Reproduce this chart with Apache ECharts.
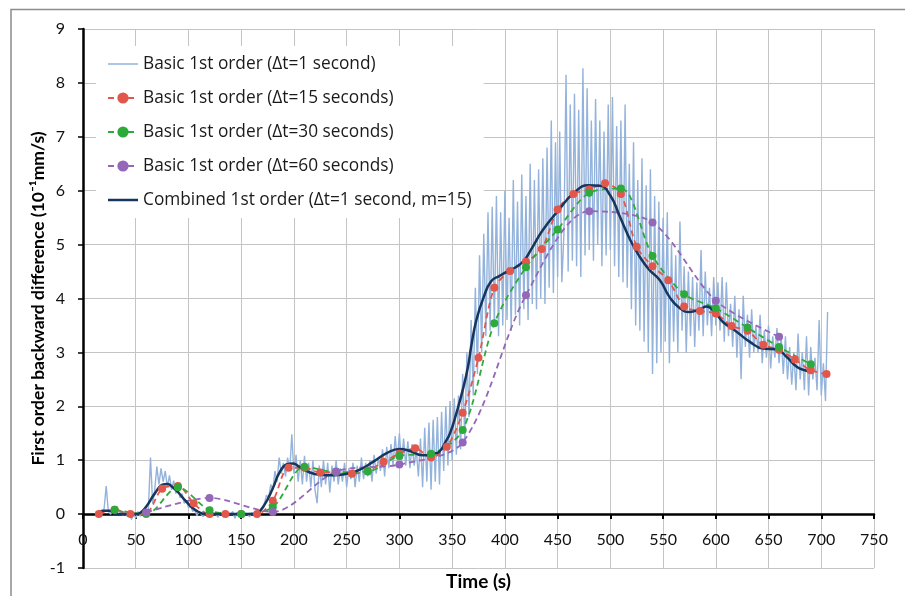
<!DOCTYPE html>
<html>
<head>
<meta charset="utf-8">
<script src="https://cdn.jsdelivr.net/npm/echarts@6/dist/echarts.min.js"></script>
<style>
html,body{margin:0;padding:0;background:#fff}
#main{width:905px;height:596px}
</style>
</head>
<body>
<div id="main"></div>
<script>
// 一阶后向差分 曲线图
var xTicks = [0, 750, 50];   // min, max, step
var yTicks = [-1, 9, 1];

// Δt=1 s raw values, one every 2 s from t=14
var basicStart = 14;
var basicStep = 2;
var basic1 = [
    0, 0.02, 0, 0.1, 0.52,          // 14
    0.05, 0, 0.03, 0.08, 0.02,      // 24
    0, 0.04, -0.02, 0.03, -0.05,    // 34
    0.04, -0.1, 0.02, -0.08, 0.05,  // 44
    -0.04, 0.02, 0.05, 0.03, 0.1,   // 54
    1.05, 0.2, 0.45, 0.88, 0.55,    // 64
    0.85, 0.6, 0.8, 0.5, 0.72,      // 74
    0.45, 0.62, 0.38, 0.5, 0.3,     // 84
    0.38, 0.2, 0.25, 0.12, 0.15,    // 94
    0.05, 0.08, -0.03, 0.04, 0,     // 104
    -0.05, 0.03, 0, 0.05, -0.03,    // 114
    0.02, 0, -0.06, 0.03, 0,        // 124
    0.04, -0.05, 0.02, 0, 0.05,     // 134
    -0.08, 0.03, -0.04, 0.06, -0.07,// 144
    0.02, 0, -0.05, 0.03, 0,        // 154
    0.02, -0.03, 0.05, 0.12, 0.2,   // 164
    0.35, 0.3, 0.55, 0.45, 0.8,     // 174
    0.6, 1.05, 0.75, 0.95, 0.7,     // 184
    1.05, 0.8, 1.48, 0.75, 1.1,     // 194
    0.6, 1.0, 0.55, 1.08, 0.6,      // 204
    0.95, 0.5, 1.0, 0.45, 0.2,      // 214
    0.9, 0.5, 1.0, 0.55, 0.95,      // 224
    0.4, 0.9, 0.6, 1.0, 0.55,       // 234
    0.85, 0.6, 0.95, 0.5, 0.85,     // 244
    0.65, 0.95, 0.5, 0.9, 0.6,      // 254
    1.05, 0.65, 0.95, 0.7, 1.0,     // 264
    0.6, 1.1, 0.75, 1.05, 0.8,      // 274
    1.2, 0.7, 1.25, 0.85, 1.3,      // 284
    0.9, 1.45, 1.0, 1.5, 0.95,      // 294
    1.4, 0.9, 1.35, 0.85, 1.3,      // 304
    0.9, 1.2, 0.7, 1.4, 0.5,        // 314
    1.6, 0.6, 1.7, 0.45, 1.75,      // 324
    0.6, 1.8, 0.55, 1.9, 0.8,       // 334
    2.0, 0.9, 2.1, 1.0, 2.15,       // 344
    1.1, 2.2, 1.2, 2.6, 1.4,        // 354
    3.0, 1.8, 3.6, 2.2, 4.2,        // 364
    2.6, 4.8, 3.0, 5.2, 3.3,        // 374
    5.6, 3.4, 5.7, 3.5, 5.9,        // 384
    3.3, 5.6, 3.5, 6.0, 3.6,        // 394
    5.5, 3.4, 6.2, 3.7, 5.8,        // 404
    3.5, 6.3, 3.8, 5.9, 3.6,        // 414
    6.5, 3.9, 6.2, 3.8, 6.4,        // 424
    4.0, 6.6, 3.9, 6.8, 4.2,        // 434
    7.3, 4.1, 6.9, 4.4, 7.1,        // 444
    4.3, 5.2, 8.15, 4.5, 7.6,       // 454
    4.7, 7.8, 4.6, 7.5, 4.4,        // 464
    8.27, 4.8, 7.9, 4.9, 7.3,       // 474
    4.7, 7.7, 5.0, 7.3, 4.6,        // 484
    7.1, 4.8, 7.6, 4.9, 7.74,       // 494
    4.6, 7.2, 4.4, 7.3, 4.3,        // 504
    7.6, 4.2, 6.5, 3.8, 6.9,        // 514
    3.5, 6.2, 3.4, 6.6, 3.2,        // 524
    6.1, 3.0, 6.4, 2.6, 5.9,        // 534
    2.8, 5.8, 3.0, 5.5, 3.2,        // 544
    5.6, 2.8, 5.0, 3.2, 4.8,        // 554
    3.0, 5.43, 3.4, 4.6, 3.0,       // 564
    4.5, 3.3, 4.4, 3.1, 4.3,        // 574
    3.4, 4.9, 3.3, 4.5, 3.5,        // 584
    4.2, 3.3, 4.4, 3.5, 4.3,        // 594
    3.4, 4.4, 3.2, 4.3, 3.3,        // 604
    3.9, 3.1, 4.05, 2.9, 3.8,       // 614
    2.5, 4.05, 3.1, 3.7, 2.9,       // 624
    3.8, 3.0, 3.5, 3.0, 3.7,        // 634
    2.8, 3.4, 2.9, 3.5, 2.7,        // 644
    3.3, 2.9, 3.45, 2.8, 3.3,       // 654
    2.6, 3.3, 2.5, 3.1, 2.4,        // 664
    3.0, 2.3, 3.35, 2.5, 3.0,       // 674
    2.3, 3.3, 2.2, 3.1, 2.5,        // 684
    2.9, 2.3, 3.6, 2.2, 2.8,        // 694
    2.1, 3.75                       // 704
];

// Δt=15 s
var t15 = [15, 30, 45, 60, 75, 90, 105, 120, 135, 150, 165, 180, 195, 210, 225, 240,
    255, 270, 285, 300, 315, 330, 345, 360, 375, 390, 405, 420, 435, 450, 465, 480,
    495, 510, 525, 540, 555, 570, 585, 600, 615, 630, 645, 660, 675, 690, 705];
var basic15 = [0, 0.08, 0, 0.02, 0.47, 0.52, 0.2, 0, 0, 0, 0, 0.25, 0.86, 0.86, 0.77, 0.78,
    0.75, 0.8, 0.97, 1.12, 1.22, 1.05, 1.25, 1.88, 2.9, 4.2, 4.51, 4.68, 4.92, 5.65, 5.94, 6.02,
    6.14, 5.94, 4.96, 4.6, 4.34, 3.85, 3.77, 3.72, 3.49, 3.4, 3.14, 3.05, 2.87, 2.67, 2.6];

// Δt=30 s
var t30 = [30, 60, 90, 120, 150, 180, 210, 240, 270, 300, 330, 360, 390, 420, 450, 480,
    510, 540, 570, 600, 630, 660, 690];
var basic30 = [0.08, 0, 0.5, 0.07, 0, 0.13, 0.88, 0.78, 0.79, 1.08, 1.12, 1.56, 3.54, 4.58,
    5.28, 5.96, 6.04, 4.79, 4.08, 3.82, 3.46, 3.1, 2.78];

// Δt=60 s
var t60 = [60, 120, 180, 240, 300, 360, 420, 480, 540, 600, 660];
var basic60 = [0.03, 0.3, 0.04, 0.79, 0.92, 1.33, 4.06, 5.62, 5.41, 3.96, 3.29];

// combined (Δt=1 s, m=15)
var tComb = [14, 19, 25, 31, 40, 50, 54, 60, 68, 76, 80, 85, 90, 98, 107, 117, 130, 145,
    160, 165, 172, 180, 186, 193, 199, 205, 212, 224, 237, 250, 262, 275, 288, 300, 310,
    322, 332, 338, 344, 348, 354, 360, 365, 368, 373, 380, 387, 395, 402, 411, 418, 424,
    436, 451, 465, 479, 490, 500, 509, 519, 528, 537, 547, 556, 566, 575, 585, 591, 600,
    607, 620, 632, 645, 657, 667, 677, 686, 691];
var combined = [0, 0.06, 0.06, 0, 0, 0, 0.02, 0.14, 0.38, 0.55, 0.56, 0.5, 0.41, 0.23, 0.07,
    0, 0, 0, 0, 0.02, 0.17, 0.48, 0.76, 0.92, 0.94, 0.88, 0.8, 0.73, 0.72, 0.75, 0.82, 0.97,
    1.13, 1.21, 1.17, 1.09, 1.12, 1.16, 1.35, 1.5, 1.87, 2.3, 2.73, 3.1, 3.6, 4.03, 4.32,
    4.42, 4.5, 4.59, 4.7, 4.88, 5.27, 5.64, 5.95, 6.1, 6.09, 5.91, 5.52, 5.08, 4.77, 4.53,
    4.34, 4.03, 3.82, 3.75, 3.8, 3.85, 3.72, 3.56, 3.38, 3.2, 3.07, 3.06, 2.92, 2.73, 2.66, 2.64];

var names = [
    'Basic 1st order (\u0394t=1 second)',
    'Basic 1st order (\u0394t=15 seconds)',
    'Basic 1st order (\u0394t=30 seconds)',
    'Basic 1st order (\u0394t=60 seconds)',
    'Combined 1st order (\u0394t=1 second, m=15)'
];

function pairs(xs, ys) {
    var out = [];
    for (var i = 0; i < ys.length; i++) out.push([xs[i], ys[i]]);
    return out;
}
var tBasic = [];
for (var i = 0; i < basic1.length; i++) tBasic.push(basicStart + basicStep * i);

var font = 'Lato, "Noto Sans", sans-serif';
var legendFont = '"Open Sans", Lato, sans-serif';

// grid: 29 top, 28 bottom -> one y unit in px, used to lift the x axis onto y=0
var gridTop = 29, gridBottom = 28, chartH = 596;
var unitPx = (chartH - gridTop - gridBottom) / (yTicks[1] - yTicks[0]);

var myChart = echarts.init(document.getElementById('main'));
var option = {
    animation: false,
    backgroundColor: '#fff',
    graphic: [{
        type: 'polyline',
        shape: { points: [[11, 596], [11, 9.5], [905, 9.5]] },
        style: { stroke: '#8c8c8c', lineWidth: 1.5, fill: null },
        silent: true
    }],
    grid: { left: 83, right: 31, top: gridTop, bottom: gridBottom, containLabel: false, outerBoundsMode: 'none' },
    legend: {
        orient: 'vertical',
        left: 96,
        top: 46,
        padding: [8, 12, 8, 11],
        backgroundColor: '#fff',
        itemWidth: 30,
        itemHeight: 14,
        itemGap: 14,
        textStyle: { fontFamily: legendFont, fontSize: 17.3, color: '#1a1a1a', lineHeight: 20 },
        data: [
            { name: names[0], icon: 'path://M0,0H30V1.5H0Z' },
            names[1], names[2], names[3],
            { name: names[4], icon: 'path://M0,0H30V2.5H0Z' }
        ]
    },
    xAxis: {
        type: 'value',
        min: xTicks[0], max: xTicks[1], interval: xTicks[2],
        offset: -unitPx * (0 - yTicks[0]),
        name: 'Time (s)',
        nameLocation: 'middle',
        nameGap: 58,
        nameMoveOverlap: false,
        nameTextStyle: { fontFamily: font, fontSize: 19, fontWeight: 'bold', color: '#000' },
        axisLine: { onZero: false, lineStyle: { color: '#000', width: 2.5 } },
        axisTick: { show: true, length: 5, lineStyle: { color: '#000', width: 2 } },
        axisLabel: { margin: 18, fontFamily: font, fontSize: 16, color: '#111' },
        splitLine: { show: true, lineStyle: { color: '#c4c4c4', width: 1 } }
    },
    yAxis: {
        type: 'value',
        min: yTicks[0], max: yTicks[1], interval: yTicks[2],
        name: 'First order backward difference (10\u207B\u00B9mm/s)',
        nameLocation: 'middle',
        nameGap: 36,
        nameMoveOverlap: false,
        nameTextStyle: { fontFamily: font, fontSize: 17.5, fontWeight: 'bold', color: '#000' },
        axisLine: { show: true, lineStyle: { color: '#000', width: 2.5 } },
        axisTick: { show: true, length: 5, lineStyle: { color: '#000', width: 1.5 } },
        axisLabel: { margin: 18, fontFamily: font, fontSize: 16, color: '#111' },
        splitLine: { show: true, lineStyle: { color: '#c4c4c4', width: 1 } }
    },
    series: [
        {
            name: names[0], type: 'line', symbol: 'none',
            data: pairs(tBasic, basic1),
            itemStyle: { color: '#93b3dc' },
            lineStyle: { color: '#93b3dc', width: 1.4 }
        },
        {
            name: names[1], type: 'line', symbol: 'circle', symbolSize: 8, smooth: 0.3,
            data: pairs(t15, basic15),
            itemStyle: { color: '#e2574c' },
            lineStyle: { color: '#e2574c', width: 1.8, type: [6, 4] }
        },
        {
            name: names[2], type: 'line', symbol: 'circle', symbolSize: 8, smooth: 0.3,
            data: pairs(t30, basic30),
            itemStyle: { color: '#2eaa3a' },
            lineStyle: { color: '#2eaa3a', width: 1.8, type: [6, 4] }
        },
        {
            name: names[3], type: 'line', symbol: 'circle', symbolSize: 8, smooth: 0.3,
            data: pairs(t60, basic60),
            itemStyle: { color: '#9467b8' },
            lineStyle: { color: '#9467b8', width: 1.8, type: [6, 4] }
        },
        {
            name: names[4], type: 'line', symbol: 'none', smooth: 0.5,
            data: pairs(tComb, combined),
            itemStyle: { color: '#17365d' },
            lineStyle: { color: '#17365d', width: 2.5 }
        }
    ]
};
myChart.setOption(option);
window.onresize = myChart.resize;
</script>
</body>
</html>
